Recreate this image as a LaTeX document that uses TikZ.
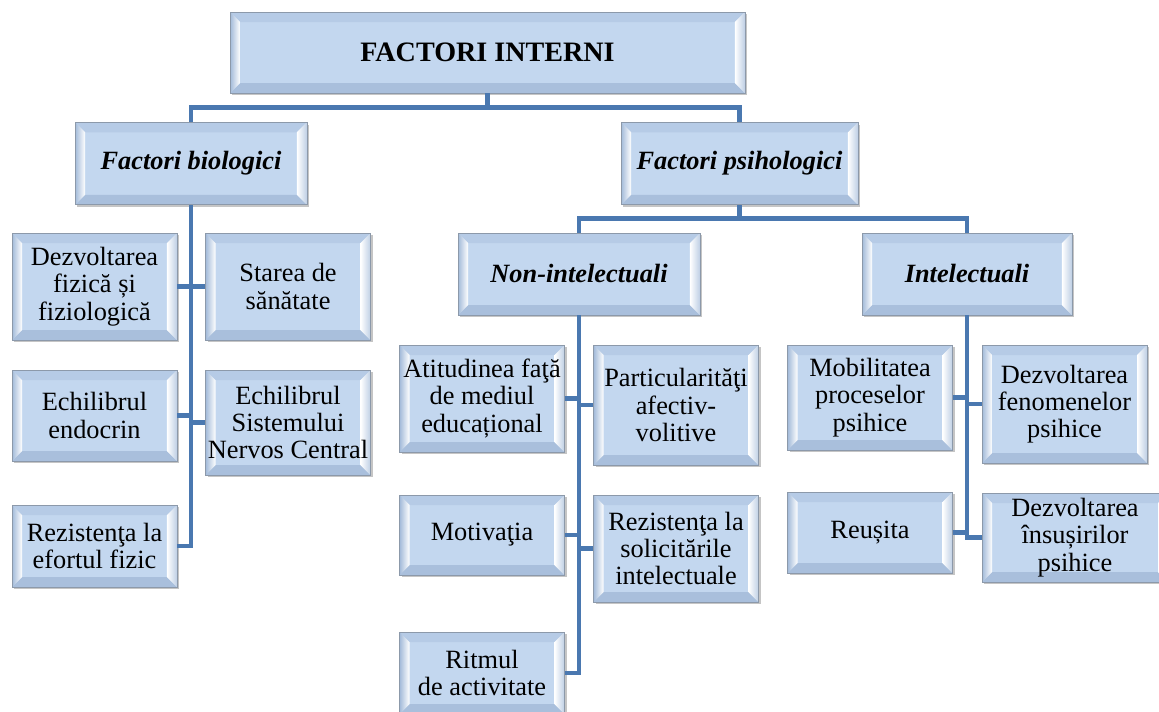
\documentclass[tikz,border=0pt]{standalone}
\usepackage{fontspec}
\setmainfont{Liberation Serif}
\usetikzlibrary{shadows}

\definecolor{boxblue}{HTML}{C3D7EF}
\definecolor{bevtop}{HTML}{B6CBE6}
\definecolor{bevbot}{HTML}{A9BFDC}
\definecolor{bevside}{HTML}{A2BAD9}
\definecolor{boxedge}{HTML}{8C99AA}
\definecolor{linkblue}{HTML}{4A78B0}
\newcommand\bevw{0.2cm}

\tikzset{
  bevel/.style={rectangle, align=center, fill=boxblue, draw=boxedge, line width=0.5pt,
    inner sep=1pt, font=\fontsize{15}{15.5}\selectfont,
    drop shadow={shadow xshift=1.3pt, shadow yshift=-1.3pt, fill=black!50, opacity=0.45},
    path picture={
      \fill[bevtop] (path picture bounding box.north west) -- (path picture bounding box.north east)
        -- ([xshift=-\bevw,yshift=-\bevw]path picture bounding box.north east)
        -- ([xshift=\bevw,yshift=-\bevw]path picture bounding box.north west) -- cycle;
      \fill[bevbot] (path picture bounding box.south west) -- (path picture bounding box.south east)
        -- ([xshift=-\bevw,yshift=\bevw]path picture bounding box.south east)
        -- ([xshift=\bevw,yshift=\bevw]path picture bounding box.south west) -- cycle;
      \shade[left color=bevside, right color=white] (path picture bounding box.north west)
        -- ([xshift=\bevw,yshift=-\bevw]path picture bounding box.north west)
        -- ([xshift=\bevw,yshift=\bevw]path picture bounding box.south west)
        -- (path picture bounding box.south west) -- cycle;
      \shade[left color=white, right color=bevside!70] (path picture bounding box.north east)
        -- ([xshift=-\bevw,yshift=-\bevw]path picture bounding box.north east)
        -- ([xshift=-\bevw,yshift=\bevw]path picture bounding box.south east)
        -- (path picture bounding box.south east) -- cycle;
    }},
  mainbox/.style={bevel, minimum width=10.3cm, minimum height=1.62cm,
    font=\fontsize{16}{18}\selectfont\bfseries},
  groupbox/.style={bevel, minimum height=1.65cm,
    font=\fontsize{15}{16}\selectfont\bfseries\itshape},
  itembox/.style={bevel, minimum width=3.3cm},
  link/.style={draw=linkblue, line width=2.8pt}
}

\begin{document}
\begin{tikzpicture}[x=0.02cm, y=-0.02cm]
  \useasboundingbox[fill=white] (0,0) rectangle (1159,711);

  \node[mainbox] (fi) at (487.5, 52.5) {FACTORI INTERNI};

  \node[groupbox, minimum width=4.64cm] (bio) at (191, 163.5) {Factori biologici};
  \node[groupbox, minimum width=4.74cm] (psi) at (739.5, 163.5) {Factori psihologici};

  \draw[link] (fi.south) -- ++(0,14) -| (bio.north);
  \draw[link] (fi.south) -- ++(0,14) -| (psi.north);

  \node[groupbox, minimum width=4.84cm, minimum height=1.64cm] (nonint) at (579, 274) {Non-intelectuali};
  \node[groupbox, minimum width=4.2cm, minimum height=1.64cm] (intel) at (967, 274) {Intelectuali};

  \draw[link] (psi.south) -- ++(0,13) -| (nonint.north);
  \draw[link] (psi.south) -- ++(0,13) -| (intel.north);

  \node[itembox, minimum height=2.14cm] (dezv) at (94.5, 286.5) {Dezvoltarea\\fizică și\\fiziologică};
  \node[itembox, minimum height=2.14cm] (stare) at (288, 286.5) {Starea de\\sănătate};
  \node[itembox, minimum height=1.82cm] (endo) at (94.5, 415.5) {Echilibrul\\endocrin};
  \node[itembox, minimum height=2.1cm] (snc) at (288, 422.5) {Echilibrul\\Sistemului\\Nervos Central};
  \node[itembox, minimum height=1.64cm] (efort) at (94.5, 546) {Rezistenţa la\\efortul fizic};

  \draw[link] (bio.south) |- (efort.east);
  \draw[link] (dezv.east) -- (dezv.east -| bio.south);
  \draw[link] (stare.west) -- (stare.west -| bio.south);
  \draw[link] (endo.east) -- (endo.east -| bio.south);
  \draw[link] (snc.west) -- (snc.west -| bio.south);

  \node[itembox, minimum height=2.14cm] (atit) at (482, 398.5) {Atitudinea faţă\\de mediul\\educațional};
  \node[itembox, minimum height=2.4cm] (partic) at (676, 405) {Particularităţi\\afectiv-\\volitive};
  \node[itembox, minimum height=1.6cm] (motiv) at (482, 535) {Motivaţia};
  \node[itembox, minimum height=2.14cm] (rezint) at (676, 548.5) {Rezistenţa la\\solicitările\\intelectuale};
  \node[itembox, minimum height=1.64cm] (ritm) at (482, 673) {Ritmul\\de activitate};

  \draw[link] (nonint.south) |- (ritm.east);
  \draw[link] (atit.east) -- (atit.east -| nonint.south);
  \draw[link] (partic.west) -- (partic.west -| nonint.south);
  \draw[link] (motiv.east) -- (motiv.east -| nonint.south);
  \draw[link] (rezint.west) -- (rezint.west -| nonint.south);

  \node[itembox, minimum height=2.1cm] (mobil) at (870, 397.5) {Mobilitatea\\proceselor\\psihice};
  \node[itembox, minimum height=2.36cm] (fenom) at (1064.5, 404) {Dezvoltarea\\fenomenelor\\psihice};
  \node[itembox, minimum height=1.62cm] (reus) at (870, 532.5) {Reușita};
  \node[itembox, minimum width=3.72cm, minimum height=1.78cm] (insus) at (1075, 537.5) {Dezvoltarea\\însușirilor\\psihice};

  \draw[link] (intel.south) |- (insus.west);
  \draw[link] (mobil.east) -- (mobil.east -| intel.south);
  \draw[link] (fenom.west) -- (fenom.west -| intel.south);
  \draw[link] (reus.east) -- (reus.east -| intel.south);
\end{tikzpicture}
\end{document}
